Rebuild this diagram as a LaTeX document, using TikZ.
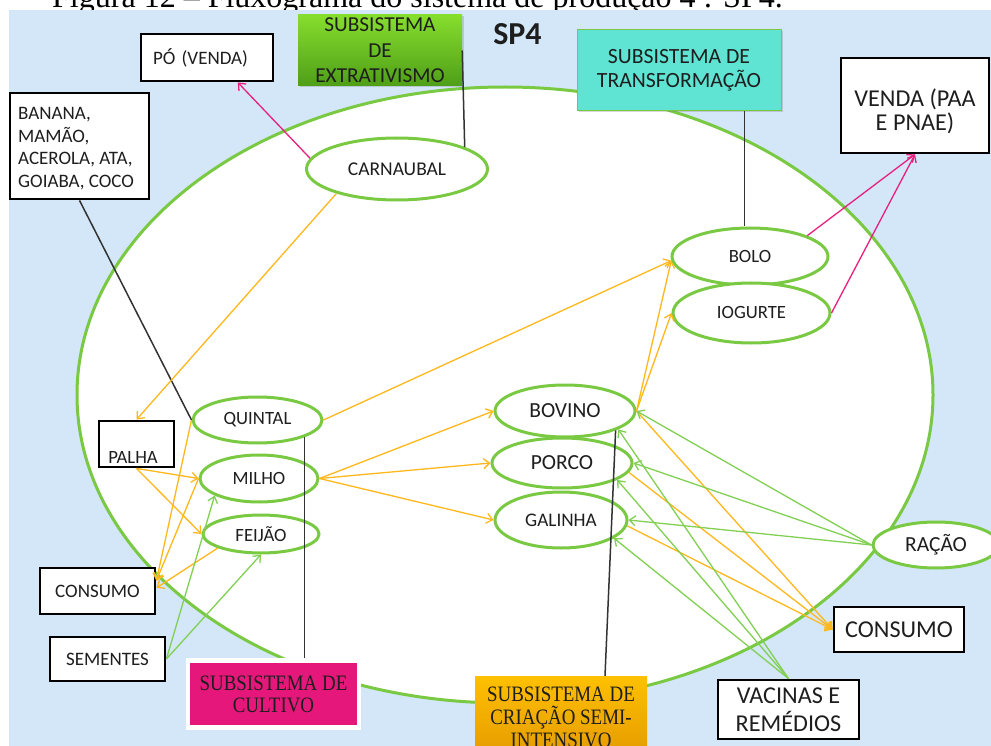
\documentclass[tikz,border=0pt]{standalone}
\usepackage{fontspec}
\setmainfont{Carlito}
\newfontfamily\capserif{Liberation Serif}
\newfontfamily\condserif[FakeStretch=0.86]{Liberation Serif}
\usetikzlibrary{shapes.geometric,arrows.meta,shadows,calc}
\newcommand\fsz[2]{\fontsize{#1}{#2}\selectfont}

\definecolor{skyblue}{HTML}{D3E7F8}
\definecolor{leaf}{HTML}{7AC943}
\definecolor{amber}{HTML}{FFB81C}
\definecolor{sprout}{HTML}{82D053}
\definecolor{rose}{HTML}{E8207E}
\definecolor{ink}{HTML}{1E1E1E}
\definecolor{wire}{HTML}{333333}
\definecolor{tealfill}{HTML}{5FE3D3}
\definecolor{magfill}{HTML}{E5177B}
\definecolor{grnTop}{HTML}{86DE2D}
\definecolor{grnBot}{HTML}{4F9E18}
\definecolor{orgTop}{HTML}{FFC000}
\definecolor{orgBot}{HTML}{E49A00}

\begin{document}
\begin{tikzpicture}[x=1pt,y=-1pt,
  txt/.style={text=ink, inner sep=0pt},
  ell/.style={ellipse, draw=leaf, line width=3pt, fill=white, inner sep=0pt, text=ink},
  box/.style={rectangle, draw=black, line width=2.8pt, fill=white, inner sep=0pt, text=ink},
  soft/.style={drop shadow={shadow xshift=1.5pt, shadow yshift=-1.5pt, opacity=0.3}},
  flowO/.style={draw=amber, line width=1.3pt, -{Straight Barb[length=6pt,width=10pt]}},
  flowG/.style={draw=sprout, line width=1.3pt, -{Straight Barb[length=6pt,width=10pt]}},
  flowP/.style={draw=rose, line width=1.3pt, -{Straight Barb[length=6pt,width=10pt]}},
  link/.style={draw=wire, line width=1.5pt},
  elltext/.style={font=\fsz{18.7}{20}},
  bigtext/.style={font=\fsz{21.5}{22}}
]
\useasboundingbox (0,0) rectangle (991,746);

% caption line above the frame
\node[anchor=base west, inner sep=0pt, text=black, font=\capserif\fsz{32}{32}] (caption) at (52,7.5)
  {Figura 12 – Fluxograma do sistema de produção 4 : SP4.};

% background and the farm boundary
\fill[skyblue] (9,10) rectangle (991,746);
\draw[leaf, line width=3pt, fill=white] (505,395) ellipse [x radius=428pt, y radius=308pt];

% title
\node[txt, anchor=base, font=\bfseries\fsz{32}{32}] (sp4) at (517.5,45) {SP4};

% subsystem labels
\node[rectangle, minimum width=164pt, minimum height=71pt, inner sep=0pt,
      top color=grnTop, bottom color=grnBot, soft, align=center, text=ink,
      font=\fsz{21.3}{25.5}] (extr) at (380,50.5) {SUBSISTEMA\\DE\\EXTRATIVISMO};
\node[rectangle, minimum width=204pt, minimum height=81pt, inner sep=0pt,
      fill=tealfill, draw=leaf, line width=1pt, soft, align=center, text=ink,
      font=\fsz{21.7}{24}] (teal) at (679,70) {SUBSISTEMA DE\\TRANSFORMAÇÃO};
\node[rectangle, minimum width=171pt, minimum height=67pt, inner sep=0pt,
      fill=magfill, draw=white, line width=4.5pt, soft, align=center, text=ink,
      font=\condserif\fsz{22}{22}] (cult) at (273.5,694) {SUBSISTEMA DE\\CULTIVO};
\node[rectangle, minimum width=172pt, minimum height=82pt, inner sep=0pt,
      top color=orgTop, bottom color=orgBot, align=center, text=ink,
      font=\condserif\fsz{22}{23}] (cria) at (561,717) {SUBSISTEMA DE\\CRIAÇÃO SEMI-\\INTENSIVO};

% outside inputs and outputs
\node[box, minimum width=132pt, minimum height=47pt, inner xsep=12pt, text width=108pt,
      align=left, font=\fsz{19}{20}] (po) at (207,57.5) {PÓ (VENDA)};
\node[box, minimum width=139pt, minimum height=106pt] (banana) at (79.5,146) {};
\node[txt, anchor=north west, align=left, font=\fsz{19}{22.8}] (bananaTxt) at (18,107)
  {BANANA,\\MAMÃO,\\ACEROLA, ATA,\\GOIABA, COCO};
\node[box, minimum width=148pt, minimum height=95pt] (venda) at (915,105.5) {};
\node[txt, align=center, font=\fsz{24.2}{24}] (vendaTxt) at (915,111) {VENDA (PAA\\E PNAE)};
\node[box, minimum width=75pt, minimum height=46pt] (palha) at (136.5,444) {};
\node[txt, font=\fsz{18.7}{20}] (palhaTxt) at (133,457) {PALHA};
\node[box, minimum width=115pt, minimum height=46pt, font=\fsz{19}{20}] (consl) at (97.5,591) {CONSUMO};
\node[box, minimum width=115pt, minimum height=44pt, font=\fsz{19}{20}] (sem) at (107.5,659) {SEMENTES};
\node[box, minimum width=130pt, minimum height=45pt, font=\fsz{24.2}{24}] (consr) at (899,629.5) {CONSUMO};
\node[box, minimum width=141pt, minimum height=59pt, align=center,
      font=\fsz{24.2}{28}] (vac) at (788.5,709.5) {VACINAS E\\REMÉDIOS};

% activities inside the property
\node[ell, minimum width=181pt, minimum height=62pt, font=\fsz{19.5}{20}] (carn) at (397,169) {CARNAUBAL};
\node[ell, elltext, minimum width=156pt, minimum height=57pt] (bolo) at (750,256.5) {BOLO};
\node[ell, elltext, minimum width=157pt, minimum height=60pt] (iog) at (751.5,313) {IOGURTE};
\node[ell, elltext, minimum width=129pt, minimum height=46pt] (quintal) at (257.5,420) {QUINTAL};
\node[ell, elltext, minimum width=118pt, minimum height=47pt] (milho) at (259,478.5) {MILHO};
\node[ell, elltext, minimum width=116pt, minimum height=38pt] (feijao) at (261,534) {FEIJÃO};
\node[ell, bigtext, minimum width=140pt, minimum height=52pt] (bov) at (565,411) {BOVINO};
\node[ell, bigtext, minimum width=140pt, minimum height=50pt] (porco) at (562,463) {PORCO};
\node[ell, font=\fsz{19.2}{20}, minimum width=132pt, minimum height=56pt] (gal) at (561,520) {GALINHA};
\node[ell, bigtext, minimum width=126pt, minimum height=46pt] (racao) at (936,545) {RAÇÃO};

% links from each subsystem label to its activity
\draw[link] (extr.east) -- (carn.18);
\draw[link] (teal.-32.7) -- (teal.-32.7 |- bolo.north);
\draw[link] (banana.south) -- (quintal.west);
\draw[link] (quintal.-20) -- (quintal.-20 |- cult.north);
\draw[link] (bov.-21.5) -- ($(cria.north)+(44,0)$);

% product flows
\draw[flowO] (carn.202) -- (palha.north);
\draw[flowO] (quintal.east) -- (bolo.183);
\draw[flowO] (bov.east) -- (bolo.183);
\draw[flowO] (bov.east) -- (iog.west);
\draw[flowO] (milho.east) -- (bov.west);
\draw[flowO] (milho.east) -- (porco.west);
\draw[flowO] (milho.east) -- (gal.west);
\draw[flowO] (palha.south) -- (milho.west);
\draw[flowO] (palha.south) -- (feijao.west);
\draw[flowO] (quintal.west) -- (consl.10);
\draw[flowO] (milho.west) -- (consl.10);
\draw[flowO] (feijao.198) -- (consl.3);
\draw[flowO] (bov.east) -- (consr.west);
\draw[flowO] (porco.-8) -- (consr.west);
\draw[flowO] (gal.-5) -- (consr.west);

% inputs
\draw[flowG] (sem.east) -- (milho.201);
\draw[flowG] (sem.east) -- (feijao.south);
\draw[flowG] (racao.west) -- (bov.east);
\draw[flowG] (racao.west) -- (porco.east);
\draw[flowG] (racao.west) -- (gal.east);
\draw[flowG] (vac.north) -- (bov.-19);
\draw[flowG] (vac.north) -- (porco.-17);
\draw[flowG] (vac.north) -- (gal.-19);

% sales
\draw[flowP] (carn.173) -- (po.-39);
\draw[flowP] (bolo.20) -- (venda.south);
\draw[flowP] (iog.east) -- (venda.south);
\end{tikzpicture}
\end{document}
